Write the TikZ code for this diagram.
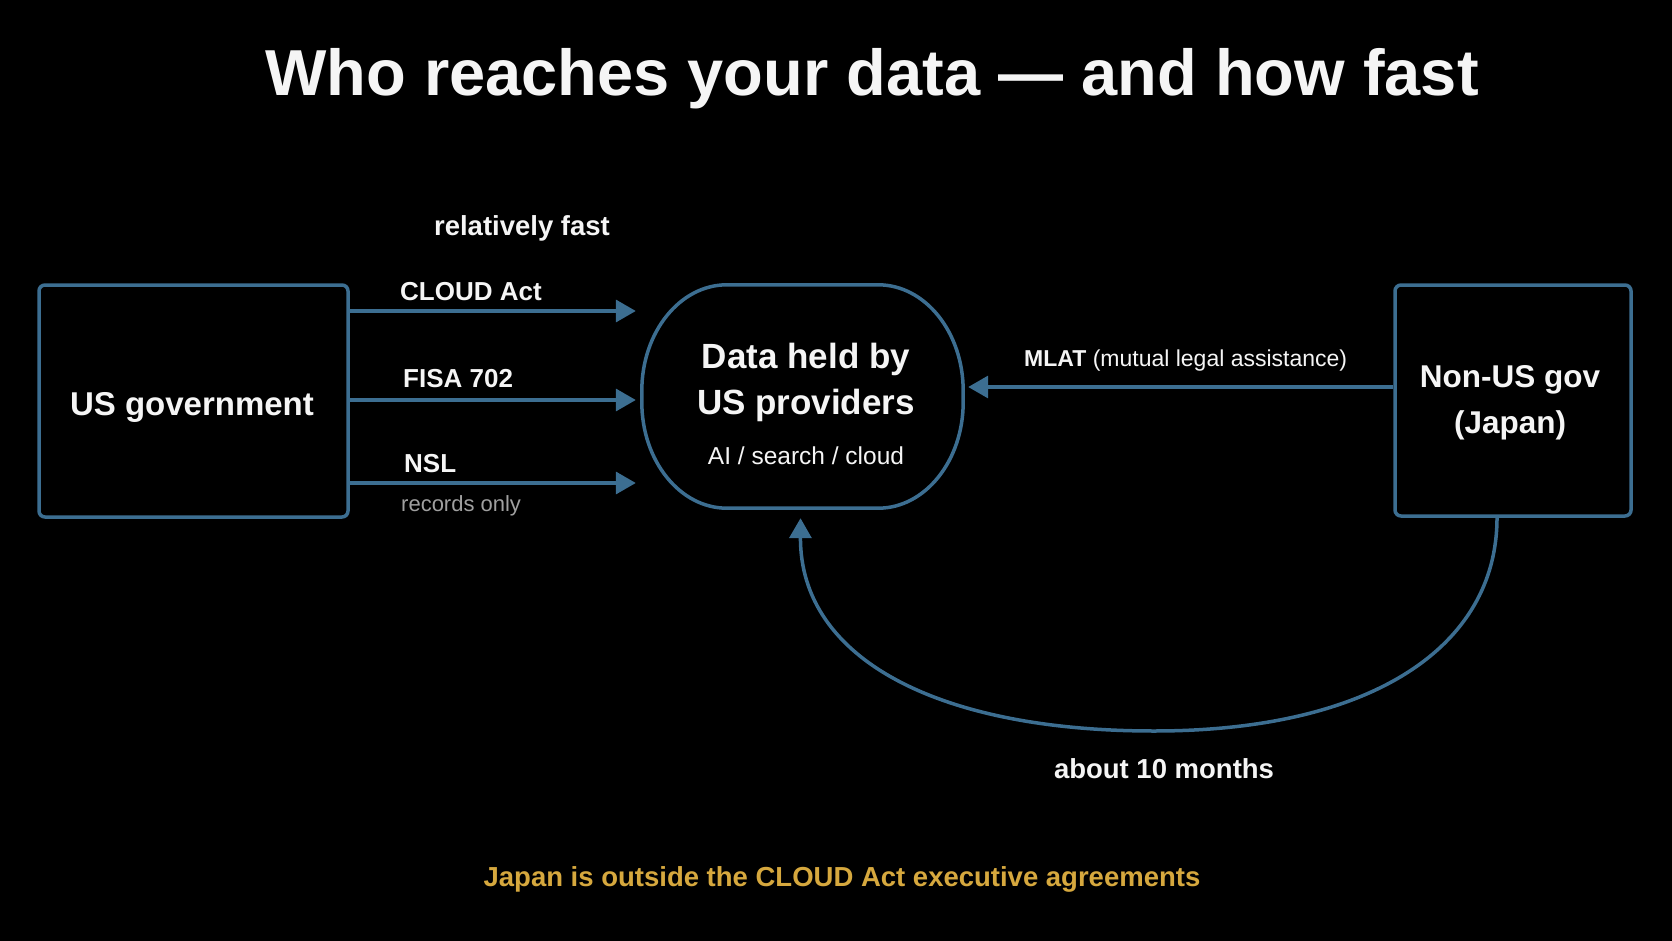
\documentclass[tikz,border=0pt]{standalone}
\usepackage{fontspec}
\setmainfont{Liberation Sans}
\usetikzlibrary{arrows.meta}
\definecolor{edge}{RGB}{60,110,145}
\definecolor{gold}{RGB}{214,168,62}
\definecolor{soft}{RGB}{160,160,160}
\definecolor{ink}{RGB}{245,245,245}
\newcommand{\fs}[1]{\fontsize{#1}{#1}\selectfont}
\begin{document}
\begin{tikzpicture}[x=1pt,y=-1pt,
  box/.style={draw=edge,line width=3.5pt,rounded corners=6pt,fill=black,inner sep=0pt},
  outline/.style={draw=edge,line width=3.5pt},
  arr/.style={draw=edge,line width=3.5pt,-{Triangle[length=20pt,width=22pt]}},
  txt/.style={text=ink,inner sep=0pt,anchor=base},
  lbl/.style={text=ink,inner sep=0pt,anchor=base west,font=\bfseries\fs{26}},
]
\fill[black] (0,0) rectangle (1672,941);
\useasboundingbox (0,0) rectangle (1672,941);

% title
\node[txt,font=\bfseries\fs{65}] (title) at (872,96) {Who reaches your data — and how fast};

% nodes
\node[box,minimum width=309pt,minimum height=232pt] (usgov) at (193.5,401) {};
\node[inner sep=0pt,minimum width=321pt,minimum height=223pt] (data) at (802.5,396.5) {};
\draw[outline] ([xshift=85pt]data.north west) -- ([xshift=-85pt]data.north east)
  arc[start angle=90,end angle=0,x radius=85pt,y radius=106pt]
  -- ([yshift=106pt]data.south east)
  arc[start angle=0,end angle=-90,x radius=85pt,y radius=106pt]
  -- ([xshift=85pt]data.south west)
  arc[start angle=270,end angle=180,x radius=85pt,y radius=106pt]
  -- ([yshift=-106pt]data.north west)
  arc[start angle=180,end angle=90,x radius=85pt,y radius=106pt] -- cycle;
\node[box,minimum width=236pt,minimum height=231pt] (nonus) at (1513,400.5) {};

\node[txt,font=\bfseries\fs{33}] (usgovt) at (192,415) {US government};
\node[txt,font=\bfseries\fs{35}] (datat1) at (806,368) {Data held by};
\node[txt,font=\bfseries\fs{35}] (datat2) at (806,414) {US providers};
\node[txt,font=\fs{24.5}] (datat3) at (806,464) {AI / search / cloud};
\node[txt,font=\bfseries\fs{31.5}] (nonust1) at (1510,387) {Non-US gov};
\node[txt,font=\bfseries\fs{31.5}] (nonust2) at (1510,433) {(Japan)};

% US gov arrows
\coordinate (c1) at ([yshift=90pt]usgov.east);
\coordinate (c2) at ([yshift=1pt]usgov.east);
\coordinate (c3) at ([yshift=-82pt]usgov.east);
\draw[arr,shorten >=6pt] (c1) -- (c1 -| data.west);
\draw[arr,shorten >=6pt] (c2) -- (c2 -| data.west);
\draw[arr,shorten >=6pt] (c3) -- (c3 -| data.west);

\node[txt,font=\bfseries\fs{27.5}] (fast) at (522,236) {relatively fast};
\node[lbl] (l1) at (400,300) {CLOUD Act};
\node[lbl] (l2) at (403,387) {FISA 702};
\node[lbl] (l3) at (404,472) {NSL};
\node[lbl,text=soft,font=\fs{22}] (l4) at (401,511) {records only};

% MLAT
\coordinate (m1) at ([yshift=13.5pt]nonus.west);
\draw[arr,shorten >=5pt] (m1) -- (m1 -| data.east);
\node[lbl,font=\fs{23}] (ml) at (1024,366) {\bfseries MLAT\mdseries{} (mutual legal assistance)};

% slow loop
\draw[arr] ([xshift=-16pt]nonus.south) .. controls +(0,130) and (1370,731) .. (1154,731)
  .. controls (940,731) and (800,660) .. ([xshift=-2pt,yshift=-10pt]data.south);
\node[txt,font=\bfseries\fs{27.5}] (months) at (1164,778) {about 10 months};

% footnote
\node[txt,text=gold,font=\bfseries\fs{27.5}] (foot) at (842,886) {Japan is outside the CLOUD Act executive agreements};
\end{tikzpicture}
\end{document}
